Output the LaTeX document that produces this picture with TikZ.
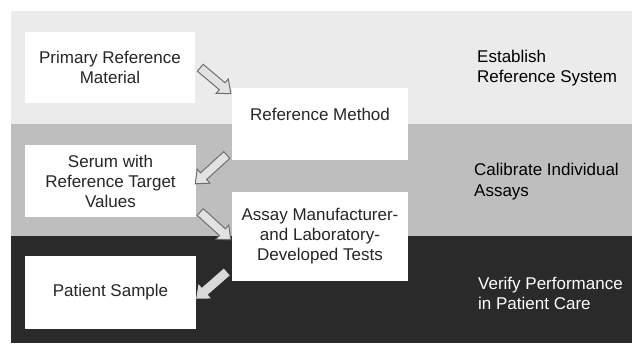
\documentclass[tikz,border=0pt]{standalone}
\usepackage{fontspec}
\setmainfont{Liberation Sans}
\usetikzlibrary{shapes.arrows,calc}

\definecolor{franjaclara}{HTML}{EBEBEB}
\definecolor{franjamedia}{HTML}{BEBEBE}
\definecolor{franjaoscura}{HTML}{2A2A2A}
\definecolor{textocaja}{HTML}{262626}
\definecolor{bordeflecha}{HTML}{6E6E6E}
\definecolor{rellenoflecha}{HTML}{E2E2E2}

\begin{document}
\begin{tikzpicture}[x=1pt,y=-1pt,
    caja/.style={fill=white, inner sep=0pt, align=center, text=textocaja,
        font=\fontsize{17}{20}\selectfont},
    etiqueta/.style={anchor=west, align=left, inner sep=0pt,
        font=\fontsize{17}{20.5}\selectfont},
    flecha/.style={single arrow, draw=bordeflecha, fill=rellenoflecha,
        line width=1pt, inner sep=4pt, single arrow head extend=5pt,
        single arrow tip angle=80}]

        % Area de dibujo (en pixeles, y hacia abajo)
        \useasboundingbox (0,0) rectangle (632,343);

        % Franjas de fondo: clara, media y oscura
        \fill[franjaclara] (11,11) rectangle (632,124);
        \fill[franjamedia] (11,124) rectangle (632,236);
        \fill[franjaoscura] (11,236) rectangle (632,343);

        % Cajas de la columna izquierda
        \node[caja, minimum width=170, minimum height=71] (primaria) at (110,67.5)
            {Primary Reference\\Material};
        \node[caja, minimum width=171, minimum height=72] (suero) at (110.5,181)
            {Serum with\\Reference Target\\Values};
        \node[caja, minimum width=171, minimum height=73] (paciente) at (110.5,292.5)
            {Patient Sample};

        % Cajas de la columna central
        \node[caja, minimum width=176, minimum height=72] (metodo) at (320,124)
            {Reference Method\\~};
        \node[caja, minimum width=176, minimum height=89] (ensayo) at (320,236.5)
            {Assay Manufacturer-\\and Laboratory-\\Developed Tests};

        % Extremos de las flechas
        \coordinate (f1a) at ($(primaria.east)+(3,-1.5)$);
        \coordinate (f1b) at ($(metodo.north west)+(-3,4)$);
        \coordinate (f2a) at ($(metodo.south west)+(-3,-7)$);
        \coordinate (f2b) at ($(suero.east)+(1,1)$);
        \coordinate (f3a) at ($(suero.south east)+(2,-7)$);
        \coordinate (f3b) at ($(ensayo.west)+(-3,1.5)$);
        \coordinate (f4a) at ($(ensayo.south west)+(-3,-11)$);
        \coordinate (f4b) at ($(paciente.east)+(2,4.5)$);

        % Flechas de bloque entre las cajas
        \path let \p1=(f1a), \p2=(f1b), \n1={atan2(\y2-\y1,\x2-\x1)}, \n2={veclen(\x2-\x1,\y2-\y1)} in
            node[flecha, rotate=\n1, minimum height={\n2*1pt}] (flecha1) at ($(f1a)!0.5!(f1b)$) {};
        \path let \p1=(f2a), \p2=(f2b), \n1={atan2(\y2-\y1,\x2-\x1)}, \n2={veclen(\x2-\x1,\y2-\y1)} in
            node[flecha, rotate=\n1, minimum height={\n2*1pt}] (flecha2) at ($(f2a)!0.5!(f2b)$) {};
        \path let \p1=(f3a), \p2=(f3b), \n1={atan2(\y2-\y1,\x2-\x1)}, \n2={veclen(\x2-\x1,\y2-\y1)} in
            node[flecha, rotate=\n1, minimum height={\n2*1pt}] (flecha3) at ($(f3a)!0.5!(f3b)$) {};
        \path let \p1=(f4a), \p2=(f4b), \n1={atan2(\y2-\y1,\x2-\x1)}, \n2={veclen(\x2-\x1,\y2-\y1)} in
            node[flecha, draw=none, fill=gray!30, rotate=\n1, minimum height={\n2*1pt}] (flecha4) at ($(f4a)!0.5!(f4b)$) {};

        % Etiquetas de la derecha
        \node[etiqueta] (establecer) at (477,68) {Establish\\Reference System};
        \node[etiqueta] (calibrar) at (474,181.5) {Calibrate Individual\\Assays};
        \node[etiqueta, text=white] (verificar) at (478,293.5) {Verify Performance\\in Patient Care};

    \end{tikzpicture}
\end{document}
